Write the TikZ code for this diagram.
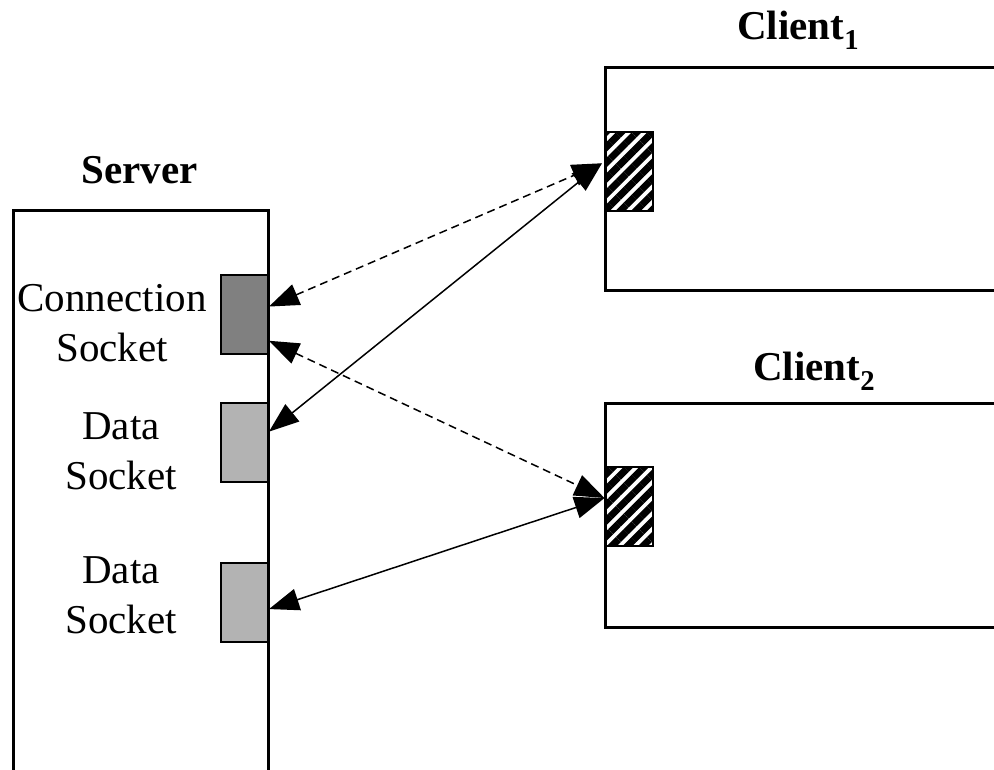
\documentclass[tikz,border=0pt]{standalone}
\usepackage{fontspec}
\setmainfont{Liberation Serif}
\usetikzlibrary{arrows.meta}
\usetikzlibrary{patterns.meta}

\begin{document}
\begin{tikzpicture}[x=1pt,y=-1pt,
        every node/.style={font=\fontsize{41}{50}\selectfont, inner sep=0pt},
        title/.style={font=\fontsize{41}{50}\selectfont\bfseries},
        socktext/.style={align=center},
        box/.style={line width=3pt},
        sock/.style={draw, line width=2pt, minimum width=47pt, minimum height=79pt},
        hatch/.style={sock, pattern={Lines[angle=45,distance=11pt,line width=7pt]}},
        link/.style={line width=1.5pt, {Triangle[length=30pt,width=22pt]}-{Triangle[length=30pt,width=22pt]}},
        dlink/.style={link, dash pattern=on 8pt off 5pt}]
        \useasboundingbox (0,0) rectangle (994,769);
        \clip (0,0) rectangle (994,769);

        % boxes
        \draw[box] (13,790) -- (13,210) -- (268,210) -- (268,790);
        \draw[box] (1010,67) -- (605,67) -- (605,290) -- (1010,290);
        \draw[box] (1010,403) -- (605,403) -- (605,627) -- (1010,627);

        % sockets
        \node[sock, fill={rgb,255:red,128;green,128;blue,128}] (connsock) at (244.5,314.5) {};
        \node[sock, fill={rgb,255:red,179;green,179;blue,179}] (datasock1) at (244.5,442.5) {};
        \node[sock, fill={rgb,255:red,179;green,179;blue,179}] (datasock2) at (244.5,602.5) {};
        \node[hatch] (clisock1) at (629,171) {};
        \node[hatch] (clisock2) at (629,506) {};

        % labels
        \node[title, anchor=base] (srvlbl) at (139.5,183) {Server};
        \node[title, anchor=base west] (cli1lbl) at (737,39) {Client\textsubscript{1}};
        \node[title, anchor=base west] (cli2lbl) at (753,380) {Client\textsubscript{2}};
        \node[socktext, anchor=base] (connlbl) at (112,361) {Connection\\Socket};
        \node[socktext, anchor=base] (datalbl1) at (121,489) {Data\\Socket};
        \node[socktext, anchor=base] (datalbl2) at (121,633) {Data\\Socket};

        % connections
        \draw[dlink] (connsock.18) -- (clisock1.164);
        \draw[link] (datasock1.24) -- (clisock1.164);
        \draw[dlink] (connsock.-47) -- (clisock2.162);
        \draw[link] (datasock2.-15) -- (clisock2.162);
    \end{tikzpicture}
\end{document}
